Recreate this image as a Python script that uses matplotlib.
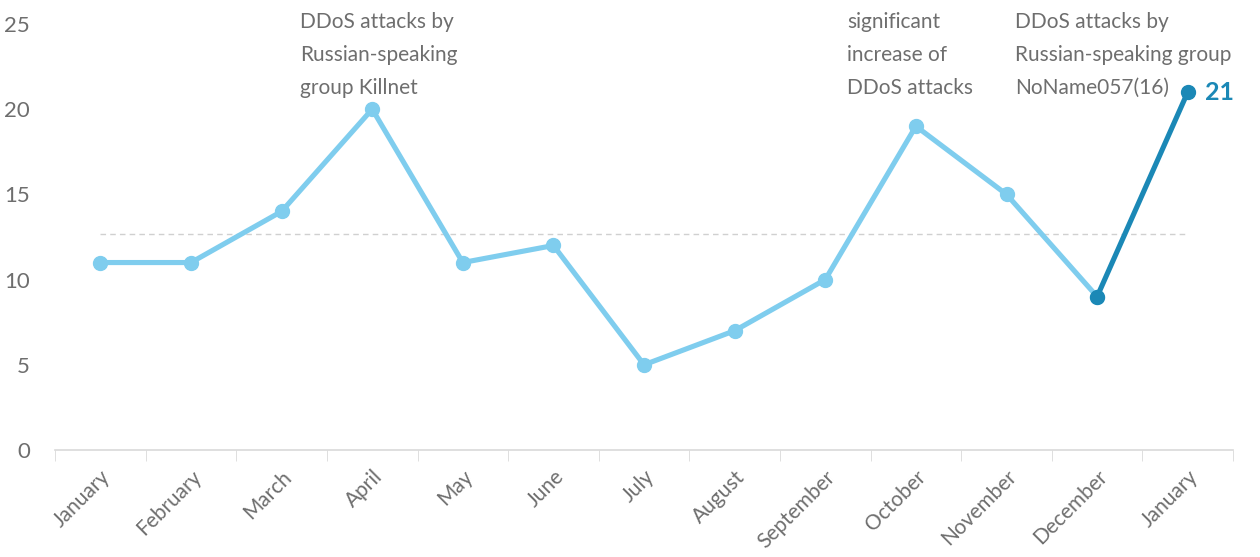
import numpy as np
import matplotlib.pyplot as plt

months = ['January', 'February', 'March', 'April', 'May', 'June', 'July',
          'August', 'September', 'October', 'November', 'December', 'January']
attacks = [11, 11, 14, 20, 11, 12, 5, 7, 10, 19, 15, 9, 21]

notes = [['DDoS attacks by', 'Russian-speaking', 'group Killnet'],
         ['significant', 'increase of', 'DDoS attacks'],
         ['DDoS attacks by', 'Russian-speaking group', 'NoName057(16)']]
note_x = [2.2, 8.245, 10.09]

light = '#7fcdee'
dark = '#1b88b6'
grey = '#6e6e6e'

plt.rcParams['font.family'] = ['Lato', 'DejaVu Sans']

x = np.arange(len(months))
y = np.asarray(attacks, dtype=float)

fig = plt.figure(figsize=(12.6, 5.57), dpi=100)
ax = fig.add_axes([0.0437, 0.1921, 0.9349, 0.7649])

# average line over all months
ax.plot([x[0], x[-1]], [y.mean(), y.mean()], '--', color='#d0d0d0',
        linewidth=1, dashes=(4, 3), zorder=1)

ax.plot(x[:-1], y[:-1], '-o', color=light, linewidth=3.7, markersize=10, zorder=3)
ax.plot(x[-2:], y[-2:], '-o', color=dark, linewidth=3.7, markersize=10, zorder=4)

# annotations, one line at a time (33 px apart)
for tx, lines in zip(note_x, notes):
    for i, txt in enumerate(lines):
        ax.annotate(txt, (tx, 25.7), xytext=(0, -i * 23.8), textcoords='offset points',
                    ha='left', va='top', fontsize=15, color=grey,
                    annotation_clip=False)
ax.text(x[-1] + 0.19, y[-1], '%d' % attacks[-1], ha='left', va='center',
        fontsize=18, fontweight='bold', color=dark, clip_on=False)

ax.set_xlim(-0.5, len(months) - 0.5)
ax.set_ylim(0, 25)
ax.set_yticks(range(0, 26, 5))
ax.set_xticks(x)
ax.set_xticklabels(months, rotation=45, ha='right', rotation_mode='anchor')
ax.set_xticks(np.arange(-0.5, len(months), 1.0), minor=True)
ax.tick_params(axis='x', which='major', length=0, pad=12, labelsize=15, labelcolor=grey)
ax.tick_params(axis='x', which='minor', length=8, color='#d9d9d9', direction='out')
ax.tick_params(axis='y', length=0, pad=18, labelsize=16, labelcolor=grey)

for s in ['top', 'right', 'left']:
    ax.spines[s].set_visible(False)
ax.spines['bottom'].set_color('#d9d9d9')
ax.spines['bottom'].set_linewidth(1.2)

plt.savefig('out.png', dpi=100)
